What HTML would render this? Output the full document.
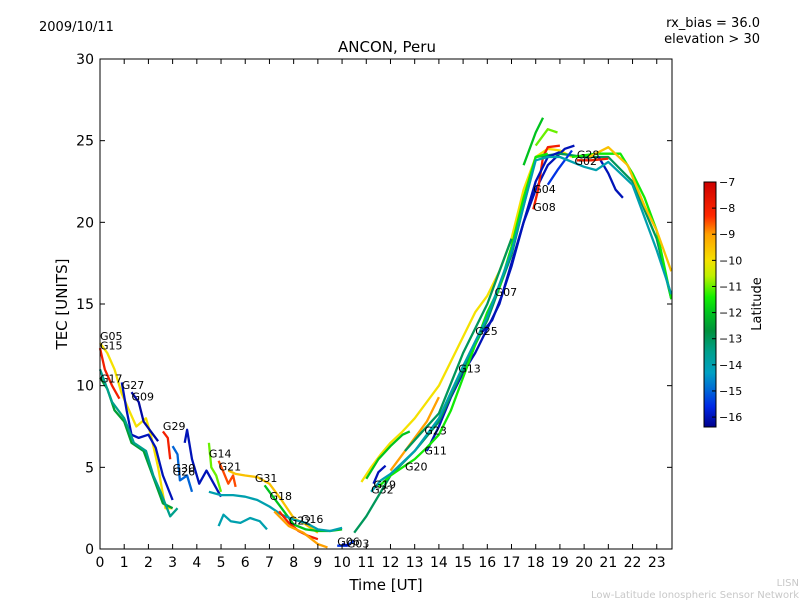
<!DOCTYPE html>
<html><head><meta charset="utf-8"><style>
body{margin:0;background:#fff;width:800px;height:600px;overflow:hidden}
svg{font-family:"DejaVu Sans","Liberation Sans",sans-serif}
</style></head><body>
<svg id="c" width="800" height="600"></svg>
<script>
const satLabels=["G05","G15","G17","G27","G09","","G29","G26","G30","G14","G21","G31","G18","G16","G22","","","G06","G03","G07","G20","G19","G13","G08","","","G28","","","","G02","G04","G23","G11","G25","G32",""];
const satLat=[-10,-8,-12.5,-16,-16.2,-13.5,-8,-15,-16,-11,-8.5,-9.5,-12,-14,-8,-9,-14,-15.5,-16,-10,-12,-16,-16,-8,-12,-11,-13,-16,-11.5,-9.5,-8,-15.5,-9,-11.5,-16,-14,-13];
const satData=[
[[0,12.6],[0.3,12],[0.6,11],[0.9,9.5],[1.2,8.5],[1.5,7.5],[1.9,8],[2.1,7],[2.4,5],[2.7,2.5],[3,2.5]],
[[0,12.3],[0.2,11],[0.5,10],[0.8,9.2]],
[[0,10.5],[0.3,9.8],[0.6,8.5],[1,7.8],[1.3,6.5],[1.8,6],[2.3,4],[2.6,2.8],[3,2.5]],
[[0.9,10.2],[1.1,8.5],[1.3,7],[1.6,6.8],[2,7],[2.3,6.2],[2.6,4.5],[3,3]],
[[1.3,9.6],[1.6,9],[1.8,7.8],[2.1,7.2],[2.4,6.6]],
[[0,11],[0.5,9],[1,8],[1.4,6.5],[1.9,6],[2.2,4.5],[2.5,3.5],[2.9,2],[3.2,2.5]],
[[2.6,7.2],[2.8,6.8],[2.9,5.5]],
[[3.0,6.3],[3.2,5.8],[3.3,4.2],[3.6,4.5],[3.8,3.5]],
[[3.5,6.5],[3.6,7.3],[3.8,5.5],[4.1,4],[4.4,4.8],[4.7,4],[5,3.2]],
[[4.5,6.5],[4.6,5],[4.8,4.5],[5,3.5]],
[[4.9,5.4],[5.1,4.7],[5.3,4],[5.5,4.5],[5.6,3.8]],
[[5.3,4.8],[5.6,4.6],[6,4.5],[6.5,4.4],[7,4],[7.5,3],[8,1.9],[8.5,1.5],[9,1]],
[[6.8,3.9],[7.2,3.1],[7.6,2.3],[8,1.5],[8.5,1.2],[9,1.1],[9.5,1.1],[10,1.2]],
[[4.5,3.5],[5,3.3],[5.5,3.3],[6,3.2],[6.5,3],[7,2.6],[7.5,2.1],[8,1.8],[8.5,1.6],[9,1.2],[9.5,1.1],[10,1.3]],
[[7.4,2.3],[7.8,1.6],[8.2,1.1],[8.6,0.8],[9,0.6]],
[[7.2,2.3],[7.8,1.4],[8.4,1],[9,0.3],[9.4,0.1]],
[[4.9,1.4],[5.1,2.1],[5.4,1.7],[5.8,1.6],[6.2,1.9],[6.6,1.7],[6.9,1.2]],
[[9.8,0.2],[10.2,0.2],[10.5,0.5]],
[[10,0.3],[10.3,0.2]],
[[10.8,4.1],[11.2,5],[11.6,5.8],[12,6.5],[12.5,7.2],[13,8],[13.5,9],[14,10],[14.5,11.5],[15,13],[15.5,14.5],[16,15.5],[16.5,17],[17,19],[17.5,22],[18,24],[18.5,24.5],[19,24.4],[19.5,24]],
[[11,4.3],[11.5,5.5],[12,6.3],[12.5,7],[12.8,7.2]],
[[11.3,4],[11.5,4.7],[11.8,5.1]],
[[13.5,6],[14,7.5],[14.5,9.3],[15,10.8],[15.5,12],[16,13.5],[16.5,15],[17,17.5],[17.5,20],[18,22],[18.5,23.5],[19.2,24.5],[19.6,24.7]],
[[17.9,20.8],[18.1,22],[18.3,24],[18.5,24.6],[19,24.7]],
[[17.5,23.5],[18,25.5],[18.3,26.4]],
[[18,24.7],[18.5,25.7],[18.9,25.5]],
[[10.5,1],[11,2],[12,4.5],[13,6],[14,7.8],[15,11],[16,14],[17,18],[18,24],[19,24.2],[20,24],[21,24],[22,22.5],[23,19],[23.6,15.3]],
[[20.6,24],[21,23],[21.3,22],[21.6,21.5]],
[[19.5,24],[20.5,24.2],[21.5,24.2],[22,23],[22.5,21.5],[23,19.5],[23.6,15.3]],
[[20.2,24],[21,24.6],[21.8,23.5],[22.5,21],[23,19.5],[23.6,17]],
[[19.7,23.8],[20.3,23.8],[21,23.9]],
[[18.5,22.3],[18.9,23.2],[19.3,24],[19.5,24.4]],
[[12,4.8],[12.5,5.8],[13,6.8],[13.5,7.8],[14,9.3]],
[[11.5,3.8],[12,4.5],[12.5,5],[13,5.5],[13.5,6.2],[14,7],[14.5,8.5],[15,10.5],[15.5,12.5],[16,14.5],[16.5,16],[17,18.5],[17.5,21.5],[18,24],[18.5,24.2]],
[[15.8,13.3],[16.2,14],[16.6,15.5],[17,17.3],[17.5,20],[18,22.5],[18.5,24],[19,24.3]],
[[11.2,3.5],[11.6,4.2],[12,4.6],[13,6],[14,8],[15,11.2],[16,14.2],[17,18.2],[18,23.8],[18.5,24],[19,24],[20,23.4],[20.5,23.2],[21,23.7],[22,22.3],[23,18.3],[23.6,15.6]],
[[12.6,6],[13.2,7],[14,8.3],[15,12],[16,15],[17,19]]
];
const labelPos=[[0,12.8],[0,12.2],[0,10.2],[0.9,9.8],[1.3,9.1],null,[2.6,7.3],[3.0,4.5],[3.0,4.7],[4.5,5.6],[4.9,4.8],[6.4,4.1],[7.0,3.0],[8.3,1.6],[7.8,1.5],null,null,[9.8,0.2],[10.2,0.1],[16.3,15.5],[12.6,4.8],[11.3,3.7],[14.8,10.8],[17.9,20.7],null,null,[19.7,23.9],null,null,null,[19.6,23.5],[17.9,21.8],[13.4,7.0],[13.4,5.8],[15.5,13.1],[11.2,3.4],null];
const xTicks=[0,1,2,3,4,5,6,7,8,9,10,11,12,13,14,15,16,17,18,19,20,21,22,23];
const yTicks=[0,5,10,15,20,25,30];
const cbTicks=[-7,-8,-9,-10,-11,-12,-13,-14,-15,-16];

const L=100,R=672,T=59,B=549,XMAX=23.63,YMAX=30;
const xs=v=>L+v/XMAX*(R-L), ys=v=>B-v/YMAX*(B-T);
const CBT=182,CBB=427,CBMIN=-16.38,CBMAX=-7;
const cy=v=>CBB-(v-CBMIN)/(CBMAX-CBMIN)*(CBB-CBT);
const cmap=[[-16.38,[0,0,140]],[-15.6,[0,40,230]],[-15,[0,100,215]],[-14.3,[0,160,195]],[-13.5,[0,160,140]],[-12.7,[0,145,60]],[-12,[0,195,30]],[-11.4,[20,240,0]],[-10.6,[190,240,0]],[-10,[245,225,0]],[-9,[255,160,0]],[-8.3,[255,40,0]],[-7,[205,0,0]]];
function latCol(l){
  l=Math.max(CBMIN,Math.min(CBMAX,l));
  for(let i=0;i<cmap.length-1;i++){const a=cmap[i],b=cmap[i+1];if(l<=b[0]){const f=(l-a[0])/(b[0]-a[0]);return 'rgb('+a[1].map((c,k)=>Math.round(c+(b[1][k]-c)*f)).join(',')+')';}}
  return 'rgb(205,0,0)';
}
const NS="http://www.w3.org/2000/svg",svg=document.getElementById('c');
function el(tag,a,parent){const e=document.createElementNS(NS,tag);for(const k in a)e.setAttribute(k,a[k]);(parent||svg).appendChild(e);return e;}
function txt(s,a){const e=el('text',a);e.textContent=s;return e;}

satData.forEach((pts,i)=>{
  const p=el('polyline',{points:pts.map(q=>xs(q[0]).toFixed(1)+','+ys(q[1]).toFixed(1)).join(' '),fill:'none',stroke:latCol(satLat[i]),'stroke-width':2.3,'stroke-linejoin':'round'});
  
  
});
satLabels.forEach((s,i)=>{
  if(!s||!labelPos[i])return;
  const t=txt(s,{x:xs(labelPos[i][0]),y:ys(labelPos[i][1]),'font-size':11,fill:'#000'});
  
  
});
const fr=el('rect',{x:L,y:T,width:R-L,height:B-T,fill:'none',stroke:'#000','stroke-width':1});


xTicks.forEach(v=>{
  const x=xs(v);
  el('line',{x1:x,x2:x,y1:B,y2:B-5,stroke:'#000'});el('line',{x1:x,x2:x,y1:T,y2:T+5,stroke:'#000'});
  const t=txt(v,{x:x,y:B+18,'font-size':14,'text-anchor':'middle'});
  
  
});
yTicks.forEach(v=>{
  const y=ys(v);
  el('line',{x1:L,x2:L+5,y1:y,y2:y,stroke:'#000'});el('line',{x1:R,x2:R-5,y1:y,y2:y,stroke:'#000'});
  const t=txt(v,{x:L-6,y:y+5,'font-size':14,'text-anchor':'end'});
  
  
});
const defs=el('defs',{});const g=el('linearGradient',{id:'jg',x1:0,y1:1,x2:0,y2:0},defs);
cmap.forEach(s=>el('stop',{offset:(s[0]-CBMIN)/(CBMAX-CBMIN),'stop-color':'rgb('+s[1].join(',')+')'},g));
const cb=el('rect',{x:704,y:CBT,width:12,height:CBB-CBT,fill:'url(#jg)',stroke:'#000'});


cbTicks.forEach(v=>{
  const y=cy(v);
  el('line',{x1:712,x2:716,y1:y,y2:y,stroke:'#000'});
  const t=txt('\u2212'+Math.abs(v),{x:719,y:y+4,'font-size':11});
  
  
});
</script>
<svg style="position:absolute;left:0;top:0" width="800" height="600" font-family="DejaVu Sans, Liberation Sans, sans-serif">
<text x="39" y="31" font-size="13">2009/10/11</text>
<text x="387" y="52" font-size="15" text-anchor="middle">ANCON, Peru</text>
<text x="760" y="27" font-size="13" text-anchor="end">rx_bias = 36.0</text>
<text x="760" y="43" font-size="13" text-anchor="end">elevation &gt; 30</text>
<text x="386" y="590" font-size="15" text-anchor="middle">Time [UT]</text>
<text transform="translate(67,304) rotate(-90)" font-size="15" text-anchor="middle">TEC [UNITS]</text>
<text transform="translate(761,304) rotate(-90)" font-size="13" text-anchor="middle">Latitude</text>
<text x="799" y="586" font-size="10" fill="#c8c8c8" text-anchor="end">LISN</text>
<text x="799" y="598" font-size="10" fill="#c8c8c8" text-anchor="end">Low-Latitude Ionospheric Sensor Network</text>
</svg>
</body></html>
